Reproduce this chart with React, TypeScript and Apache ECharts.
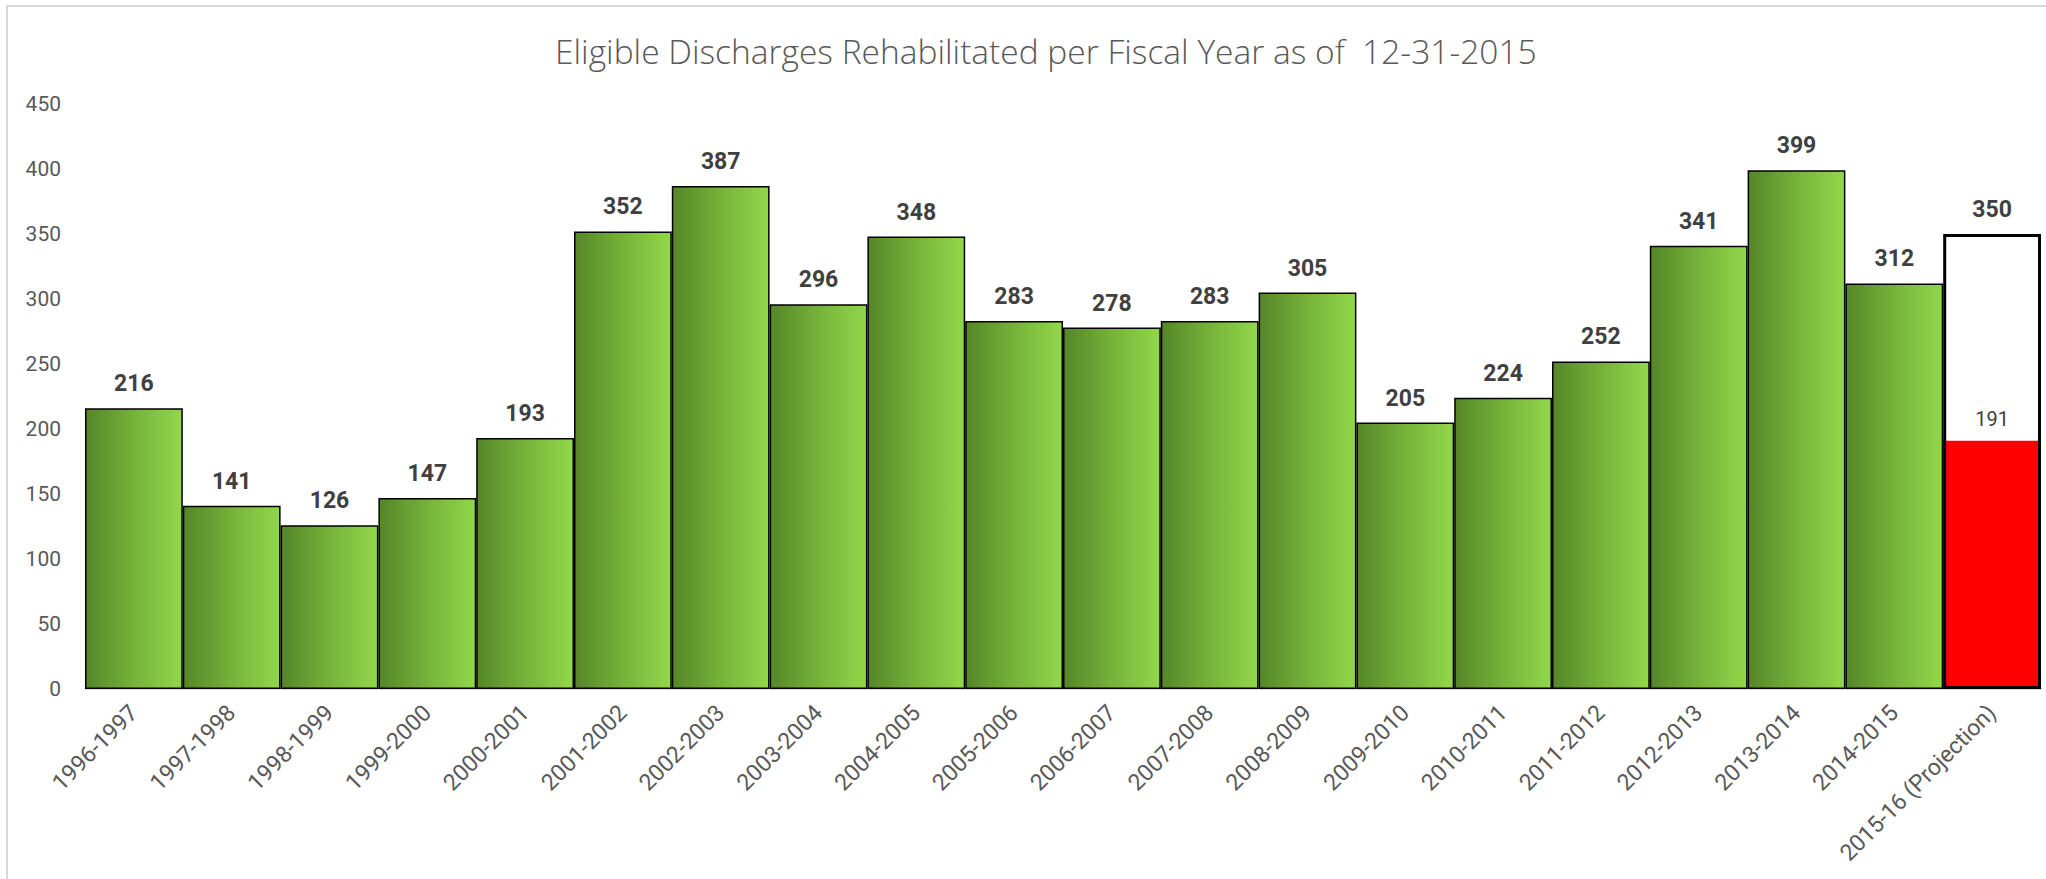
import React, { useEffect, useRef } from "react";
import * as echarts from "echarts";

const TITLE = "Eligible Discharges Rehabilitated per Fiscal Year as of  12-31-2015";
const categories = [
  "1996-1997", "1997-1998", "1998-1999", "1999-2000", "2000-2001", "2001-2002",
  "2002-2003", "2003-2004", "2004-2005", "2005-2006", "2006-2007", "2007-2008",
  "2008-2009", "2009-2010", "2010-2011", "2011-2012", "2012-2013", "2013-2014",
  "2014-2015", "2015-16 (Projection)",
];
const rehabilitated = [216, 141, 126, 147, 193, 352, 387, 296, 348, 283, 278, 283, 305, 205, 224, 252, 341, 399, 312];
const projection = 350;
const yearToDate = 191;
const yTicks = { min: 0, max: 450, interval: 50 };

export default function App() {
  const ref = useRef<HTMLDivElement>(null);
  useEffect(() => {
    if (!ref.current) return;
    const chart = echarts.init(ref.current, null, { renderer: "svg" });
    const n = categories.length;
    const greenData = categories.map((_, i) => (i < rehabilitated.length ? rehabilitated[i] : "-"));
    const projData = categories.map((_, i) => (i === n - 1 ? projection : "-"));
    const ytdData = categories.map((_, i) => (i === n - 1 ? yearToDate : "-"));
    const font = "Roboto, 'Open Sans', sans-serif";
    const green = new echarts.graphic.LinearGradient(0, 0, 1, 0, [
      { offset: 0, color: "#558628" },
      { offset: 0.5, color: "#76b23a" },
      { offset: 1, color: "#92d84a" },
    ]);
    chart.setOption({
      animation: false,
      backgroundColor: "#ffffff",
      title: {
        text: TITLE,
        left: 550,
        top: 29,
        textStyle: { fontFamily: "'Open Sans', Roboto, sans-serif", fontWeight: 300, fontSize: 33.5, color: "#595959" },
      },
      graphic: [
        {
          type: "rect",
          shape: { x: 7, y: 6, width: 2100, height: 1000 },
          style: { fill: "none", stroke: "#d9d9d9", lineWidth: 2 },
          silent: true,
          z: -10,
        },
      ],
      grid: { left: 85, right: 5, top: 104, bottom: 190, containLabel: false },
      xAxis: {
        type: "category",
        data: categories,
        axisLine: { show: true, lineStyle: { color: "#d9d9d9", width: 2 } },
        axisTick: { show: false },
        axisLabel: {
          interval: 0,
          rotate: 45,
          margin: 20,
          fontFamily: font,
          fontSize: 23,
          color: "#595959",
        },
      },
      yAxis: {
        type: "value",
        min: yTicks.min,
        max: yTicks.max,
        interval: yTicks.interval,
        axisLine: { show: false },
        axisTick: { show: false },
        splitLine: { show: false },
        axisLabel: { margin: 24, fontFamily: font, fontSize: 21, color: "#595959" },
      },
      series: [
        {
          name: "Rehabilitated",
          type: "bar",
          data: greenData,
          barGap: "-100%",
          barCategoryGap: 0,
          itemStyle: { color: green, borderColor: "#000000", borderWidth: 1.5 },
          label: {
            show: true,
            position: "top",
            distance: 13,
            fontFamily: font,
            fontWeight: "bold",
            fontSize: 23,
            color: "#404040",
          },
          z: 2,
        },
        {
          name: "Year to date",
          type: "bar",
          data: ytdData,
          barGap: "-100%",
          barCategoryGap: 0,
          itemStyle: { color: "#ff0000", borderWidth: 0 },
          label: {
            show: true,
            position: "top",
            distance: 12,
            fontFamily: font,
            fontSize: 20,
            color: "#404040",
          },
          z: 2,
        },
        {
          name: "Projection",
          type: "bar",
          data: projData,
          barGap: "-100%",
          barCategoryGap: 0,
          itemStyle: { color: "rgba(255,255,255,0)", borderColor: "#000000", borderWidth: 3 },
          label: {
            show: true,
            position: "top",
            distance: 13,
            fontFamily: font,
            fontWeight: "bold",
            fontSize: 23,
            color: "#404040",
          },
          z: 3,
        },
      ],
    });
    return () => chart.dispose();
  }, []);
  return (
    <div
      ref={ref}
      style={{ position: "fixed", left: 0, top: 0, width: 2046, height: 879, background: "#fff" }}
    />
  );
}
